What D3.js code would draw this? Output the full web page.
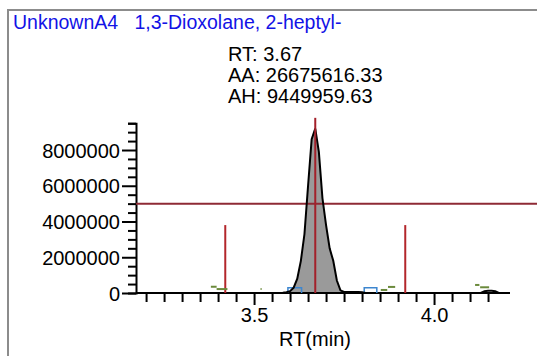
<!DOCTYPE html>
<html lang="en">
<head>
    <meta charset="UTF-8">
    <title>chromatogram-peak</title>
    <script src="https://cdn.jsdelivr.net/npm/d3@7/dist/d3.min.js"></script>
    <style>
        body {
            margin: 0;
            background: #fff;
        }
        svg text {
            font-family: "Liberation Sans", Arial, sans-serif;
        }
    </style>
</head>
<body>
<svg class="graph"></svg>
<script>
    // svg width height
    var width = 537;
    var height = 356;

    // header texts
    var titleText = 'UnknownA4\u00a0\u00a0\u00a01,3-Dioxolane, 2-heptyl-';
    var infoLines = ['RT: 3.67', 'AA: 26675616.33', 'AH: 9449959.63'];

    // chromatogram trace around the peak (RT min, intensity)
    var peakTimes  = [3.57, 3.58, 3.59, 3.60, 3.61, 3.62, 3.63, 3.64, 3.65, 3.66, 3.67, 3.68, 3.69, 3.70, 3.71, 3.72, 3.73, 3.74, 3.75, 3.76, 3.77, 3.78, 3.79, 3.80, 3.81];
    var peakValues = [0, 10000, 40000, 100000, 300000, 800000, 1800000, 3300000, 6000000, 8600000, 9200000, 7900000, 5300000, 3800000, 2500000, 1800000, 700000, 150000, 60000, 50000, 50000, 50000, 50000, 40000, 0];
    // small tail bump further right
    var tailTimes  = [4.13, 4.14, 4.15, 4.16, 4.17, 4.18];
    var tailValues = [0, 100000, 120000, 120000, 100000, 0];

    // integration window (filled part) and blue start / end markers
    var fillStart = 3.60;
    var fillEnd = 3.81;
    var markerStarts = [3.594, 3.806];
    var markerEnds   = [3.632, 3.841];
    var markerHeight = 300000;

    // green noise marks: [from, to, value]
    var noiseMarks = [
        [3.380, 3.396, 350000], [3.396, 3.426, 220000],
        [3.518, 3.521, 220000],
        [3.852, 3.870, 170000], [3.872, 3.892, 340000],
        [4.114, 4.126, 450000], [4.128, 4.153, 320000]
    ];

    // red markers
    var peakRT = 3.67;
    var peakLineTop = 9800000;
    var windowRTs = [3.42, 3.92];
    var windowTop = 3800000;
    var threshold = 5000000;

    // ticks
    var xTicks = [3.2, 3.25, 3.3, 3.35, 3.4, 3.45, 3.5, 3.55, 3.6, 3.65, 3.7, 3.75, 3.8, 3.85, 3.9, 3.95, 4.0, 4.05, 4.1, 4.15];
    var xLabels = [3.5, 4.0];
    var yTicks = [0, 500000, 1000000, 1500000, 2000000, 2500000, 3000000, 3500000, 4000000, 4500000, 5000000, 5500000, 6000000, 6500000, 7000000, 7500000, 8000000, 8500000, 9000000, 9500000];
    var yLabels = [0, 2000000, 4000000, 6000000, 8000000];
    var xTitle = 'RT(min)';

    var svg = d3.select('.graph')
        .attr('width', width)
        .attr('height', height);

    var x = d3.scaleLinear().domain([3.172, 4.211]).range([136, 510]);
    var y = d3.scaleLinear().domain([0, 9500000]).range([293, 123.2]);

    // frame
    svg.append('rect')
        .attr('x', 8).attr('y', 10)
        .attr('width', width).attr('height', height)
        .attr('fill', 'none')
        .attr('stroke', '#8c8c8c')
        .attr('stroke-width', 2);

    svg.append('text')
        .attr('x', 13).attr('y', 29)
        .attr('fill', '#1212e6')
        .attr('font-size', '19.5px')
        .text(titleText);

    svg.append('g').selectAll('text')
        .data(infoLines)
        .enter()
        .append('text')
        .attr('x', 228)
        .attr('y', function (d, i) { return 61 + i * 21; })
        .attr('font-size', '20px')
        .attr('fill', '#000')
        .text(function (d) { return d; });

    // filled peak area
    var fillPts = peakTimes.map(function (t, i) { return [t, peakValues[i]]; })
        .filter(function (d) { return d[0] >= fillStart && d[0] <= fillEnd; });
    svg.append('path')
        .datum(fillPts)
        .attr('fill', '#9a9a9a')
        .attr('d', d3.area()
            .x(function (d) { return x(d[0]); })
            .y0(y(0))
            .y1(function (d) { return y(d[1]); }));

    // axes
    var xAxis = d3.axisBottom(x)
        .tickValues(xTicks)
        .tickSizeOuter(0)
        .tickSize(9)
        .tickFormat('');
    var gx = svg.append('g')
        .attr('transform', 'translate(0,' + y(0) + ')')
        .call(xAxis);
    gx.selectAll('.tick line')
        .attr('y2', function (d) { return xLabels.indexOf(d) >= 0 ? 12 : 9; });
    gx.selectAll('.tick')
        .filter(function (d) { return xLabels.indexOf(d) >= 0; })
        .append('text')
        .attr('y', 29)
        .attr('fill', '#000')
        .attr('font-size', '20px')
        .attr('text-anchor', 'middle')
        .text(function (d) { return d3.format('.1f')(d); });

    var yAxis = d3.axisLeft(y)
        .tickValues(yTicks)
        .tickSizeOuter(0)
        .tickSize(8)
        .tickFormat('');
    var gy = svg.append('g')
        .attr('transform', 'translate(' + x.range()[0] + ',0)')
        .call(yAxis);
    gy.selectAll('.tick line')
        .attr('x2', function (d) { return yLabels.indexOf(d) >= 0 ? -14 : -8; });
    gy.selectAll('.tick')
        .filter(function (d) { return yLabels.indexOf(d) >= 0; })
        .append('text')
        .attr('x', -16)
        .attr('dy', '0.36em')
        .attr('fill', '#000')
        .attr('font-size', '20px')
        .attr('text-anchor', 'end')
        .text(function (d) { return d; });

    svg.selectAll('.domain, .tick line')
        .attr('stroke', '#000')
        .attr('stroke-width', 2);
    gx.select('.domain').attr('d', 'M' + x.range()[0] + ',0H' + x.range()[1]);

    svg.append('text')
        .attr('x', 315).attr('y', 346)
        .attr('text-anchor', 'middle')
        .attr('font-size', '20px')
        .attr('fill', '#000')
        .text(xTitle);

    // threshold line
    svg.append('line')
        .attr('x1', x.range()[0]).attr('x2', width)
        .attr('y1', y(threshold)).attr('y2', y(threshold))
        .attr('stroke', '#8e2a35')
        .attr('stroke-width', 2);

    // window lines
    svg.append('g').selectAll('line')
        .data(windowRTs)
        .enter()
        .append('line')
        .attr('x1', function (d) { return x(d); })
        .attr('x2', function (d) { return x(d); })
        .attr('y1', y(0)).attr('y2', y(windowTop))
        .attr('stroke', '#b3262b')
        .attr('stroke-width', 2);

    // green noise marks
    svg.append('g').selectAll('line')
        .data(noiseMarks)
        .enter()
        .append('line')
        .attr('x1', function (d) { return x(d[0]); })
        .attr('x2', function (d) { return x(d[1]); })
        .attr('y1', function (d) { return y(d[2]); })
        .attr('y2', function (d) { return y(d[2]); })
        .attr('stroke', '#6b8a3c')
        .attr('stroke-width', 2);

    // blue start / end markers
    svg.append('g').selectAll('path')
        .data(markerStarts)
        .enter()
        .append('path')
        .attr('fill', 'none')
        .attr('stroke', '#3d86cf')
        .attr('stroke-width', 1.5)
        .attr('d', function (d, i) {
            return 'M' + x(d) + ',' + y(0) + 'V' + y(markerHeight) +
                'H' + x(markerEnds[i]) + 'V' + y(0);
        });

    // trace lines
    var line = d3.line()
        .x(function (d) { return x(d[0]); })
        .y(function (d) { return y(d[1]); });
    [[peakTimes, peakValues], [tailTimes, tailValues]].forEach(function (s) {
        svg.append('path')
            .datum(s[0].map(function (t, i) { return [t, s[1][i]]; }))
            .attr('fill', 'none')
            .attr('stroke', '#000')
            .attr('stroke-width', 2)
            .attr('d', line);
    });

    // peak RT line
    svg.append('line')
        .attr('x1', x(peakRT)).attr('x2', x(peakRT))
        .attr('y1', y(0)).attr('y2', y(peakLineTop))
        .attr('stroke', '#a3202a')
        .attr('stroke-width', 2);
</script>
</body>
</html>
